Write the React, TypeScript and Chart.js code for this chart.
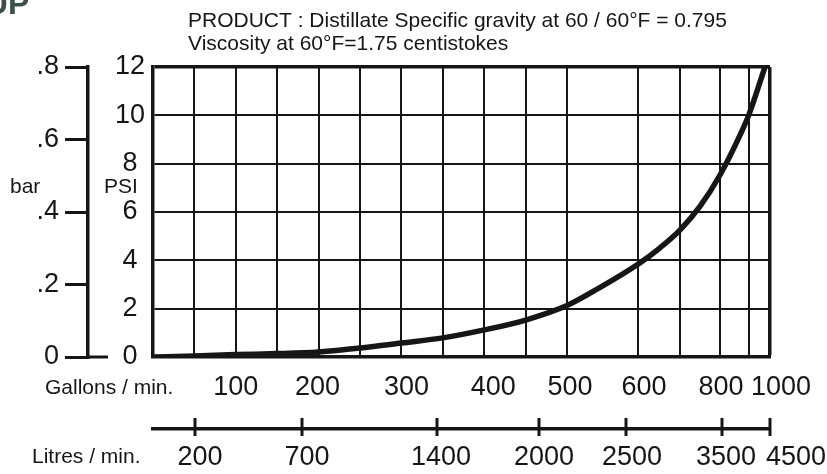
import React, { useEffect, useRef } from 'react';
import { Chart, registerables, LinearScale } from 'chart.js';

Chart.register(...registerables);

// ---------------- data ----------------
const flowGpm = [0, 50, 100, 150, 200, 250, 300, 350, 400, 450, 500, 546, 600, 652, 700, 750, 800, 869, 900, 976];
const pressurePsi = [0, 0.04, 0.1, 0.14, 0.21, 0.37, 0.58, 0.79, 1.12, 1.53, 2.13, 2.87, 3.84, 4.51, 5.25, 6.23, 7.53, 9.18, 10.04, 12.0];

const gallonGrid = [0, 50, 100, 150, 200, 250, 300, 350, 400, 450, 500, 600, 700, 800, 900, 1000];
const gallonLabels = [100, 200, 300, 400, 500, 600, 800, 1000];
const litreTicks = [200, 700, 1400, 2000, 2500, 3500, 4500];
const psiTicks = [0, 2, 4, 6, 8, 10, 12];
const barTicks = [0, 0.2, 0.4, 0.6, 0.8];
const titleLines = [
  'PRODUCT : Distillate Specific gravity at 60 / 60\u00B0F = 0.795',
  'Viscosity at 60\u00B0F=1.75 centistokes',
];

// ---------------- axis definitions (non-uniform nomogram scales) ----------------
const gallonAxisMap: [number, number][] = [
  [0, 0], [500, 0.671], [600, 0.786], [700, 0.854], [800, 0.919], [900, 0.966], [1000, 1],
];
const litreAxisMap: [number, number][] = [
  [0, 0], [200, 0.068], [700, 0.2415], [1400, 0.4603], [2000, 0.6256], [2500, 0.7666], [3500, 0.9222], [4500, 1],
];
const AXIS_MAPS: Record<string, [number, number][]> = { x: gallonAxisMap, xl: litreAxisMap };
const LABEL_NUDGE: Record<string, Record<number, number>> = {
  x: { 200: -1, 300: 5, 400: 9, 500: 3, 600: 6, 800: 1, 1000: 11 },
  xl: { 200: 5, 700: 5, 1400: 4, 2000: 5, 2500: 6, 3500: 4, 4500: 26 },
};

function interp(v: number, map: [number, number][]) {
  let i = 1;
  while (i < map.length - 1 && v > map[i][0]) i++;
  const [a0, b0] = map[i - 1];
  const [a1, b1] = map[i];
  return b0 + ((v - a0) / (a1 - a0)) * (b1 - b0);
}
function invInterp(d: number, map: [number, number][]) {
  let i = 1;
  while (i < map.length - 1 && d > map[i][1]) i++;
  const [a0, b0] = map[i - 1];
  const [a1, b1] = map[i];
  return a0 + ((d - b0) / (b1 - b0)) * (a1 - a0);
}

class PiecewiseScale extends LinearScale {
  static id = 'piecewise';
  static defaults = {};
  getPixelForValue(value: any) {
    if (value === null || value === undefined || isNaN(value)) return NaN;
    return (this as any).getPixelForDecimal(interp(value, AXIS_MAPS[(this as any).id]));
  }
  getValueForPixel(pixel: number) {
    return invInterp((this as any).getDecimalForPixel(pixel), AXIS_MAPS[(this as any).id]);
  }
  _computeLabelItems(chartArea: any) {
    const items = (LinearScale.prototype as any)._computeLabelItems.call(this, chartArea);
    const nudge = LABEL_NUDGE[(this as any).id] || {};
    const ticks = (this as any).ticks;
    items.forEach((item: any, i: number) => {
      const t = ticks[i];
      const n = t ? nudge[t.value] : 0;
      if (n) {
        const tr = item.options.translation;
        item.options.translation = [tr[0] + n, tr[1]];
      }
    });
    return items;
  }
}
Chart.register(PiecewiseScale as any);

const INK = '#161616';
const FONT = '"Liberation Sans", Arial, Helvetica, sans-serif';
const tickFont = { family: FONT, size: 27 };

const annotations = {
  id: 'annotations',
  afterDraw(chart: any) {
    const { ctx } = chart;
    const xl = chart.scales.xl;
    const yb = chart.scales.yBar;
    ctx.save();
    ctx.strokeStyle = INK;
    ctx.lineWidth = 3;
    ctx.beginPath();
    for (const t of xl.ticks) {
      const px = Math.round(xl.getPixelForValue(t.value));
      ctx.moveTo(px, xl.top - 11);
      ctx.lineTo(px, xl.top + 7);
    }
    const z = yb.getPixelForValue(0);
    ctx.moveTo(yb.right, z);
    ctx.lineTo(yb.right + 20, z);
    ctx.stroke();

    ctx.fillStyle = INK;
    ctx.textAlign = 'left';
    ctx.textBaseline = 'alphabetic';
    ctx.font = `21px ${FONT}`;
    ctx.fillText(titleLines[0], 188, 27);
    ctx.fillText(titleLines[1], 188, 50);
    ctx.fillText('bar', 10, 193);
    ctx.fillText('PSI', 104, 193);
    ctx.fillText('Gallons / min.', 45, 394);
    ctx.fillText('Litres / min.', 32, 463);

    ctx.fillStyle = '#3d5048';
    ctx.font = `bold 32px ${FONT}`;
    ctx.fillText('UP', -15, 14);
    ctx.restore();
  },
};

export default function App() {
  const ref = useRef<HTMLCanvasElement>(null);
  useEffect(() => {
    const chart = new Chart(ref.current as HTMLCanvasElement, {
      type: 'line',
      data: {
        datasets: [
          {
            data: flowGpm.map((g, i) => ({ x: g, y: pressurePsi[i] })),
            borderColor: INK,
            borderWidth: 5.5,
            pointRadius: 0,
            fill: false,
            cubicInterpolationMode: 'monotone',
            xAxisID: 'x',
            yAxisID: 'y',
          },
        ],
      },
      options: {
        animation: false,
        responsive: false,
        devicePixelRatio: 1,
        layout: { padding: { left: 0, right: 57, top: 67, bottom: 0 } },
        plugins: { legend: { display: false }, tooltip: { enabled: false }, title: { display: false } },
        scales: {
          x: {
            type: 'piecewise' as any,
            position: 'bottom',
            weight: 0,
            min: 0,
            max: 1000,
            afterBuildTicks: (s: any) => { s.ticks = gallonGrid.map((v) => ({ value: v })); },
            afterFit: (s: any) => { s.height = 72; },
            grid: {
              color: INK,
              lineWidth: (c: any) => (c.tick && c.tick.value === 1000 ? 3.5 : 2),
              drawTicks: false,
            },
            border: { display: true, width: 3.5, color: INK },
            ticks: {
              autoSkip: false,
              maxRotation: 0,
              padding: 14,
              color: INK,
              font: tickFont,
              callback: (v: any) => (gallonLabels.includes(Number(v)) ? String(v) : ''),
            },
          } as any,
          xl: {
            type: 'piecewise' as any,
            position: 'bottom',
            weight: 1,
            min: 0,
            max: 4500,
            afterBuildTicks: (s: any) => { s.ticks = litreTicks.map((v) => ({ value: v })); },
            afterFit: (s: any) => { s.height = 45; },
            grid: { display: false, drawTicks: false },
            border: { display: true, width: 3.5, color: INK },
            ticks: {
              autoSkip: false,
              maxRotation: 0,
              padding: 12,
              color: INK,
              font: tickFont,
              callback: (v: any) => String(v),
            },
          } as any,
          y: {
            type: 'linear',
            position: 'left',
            weight: 0,
            min: 0,
            max: 12,
            afterBuildTicks: (s: any) => { s.ticks = psiTicks.map((v) => ({ value: v })); },
            afterFit: (s: any) => { s.width = 65; },
            grid: {
              color: INK,
              lineWidth: (c: any) => (c.tick && c.tick.value === 12 ? 3.5 : 2),
              drawTicks: false,
            },
            border: { display: true, width: 3.5, color: INK },
            ticks: {
              padding: 8,
              crossAlign: 'center',
              color: INK,
              font: tickFont,
              callback: (v: any) => String(v),
            },
          } as any,
          yBar: {
            type: 'linear',
            position: 'left',
            weight: 1,
            min: 0,
            max: 0.8,
            afterBuildTicks: (s: any) => { s.ticks = barTicks.map((v) => ({ value: v })); },
            afterFit: (s: any) => { s.width = 88; },
            grid: { drawOnChartArea: false, drawTicks: true, tickLength: 23, lineWidth: 3, color: INK },
            border: { display: true, width: 3.5, color: INK },
            ticks: {
              padding: 6,
              crossAlign: 'near',
              color: INK,
              font: tickFont,
              callback: (v: any) => (Number(v) === 0 ? '0' : '.' + Math.round(Number(v) * 10)),
            },
          } as any,
        },
      },
      plugins: [annotations],
    } as any);
    return () => chart.destroy();
  }, []);
  return (
    <div style={{ position: 'fixed', left: 0, top: 0, width: 827, height: 474, background: '#fff' }}>
      <canvas ref={ref} width={827} height={474} style={{ display: 'block' }} />
    </div>
  );
}
